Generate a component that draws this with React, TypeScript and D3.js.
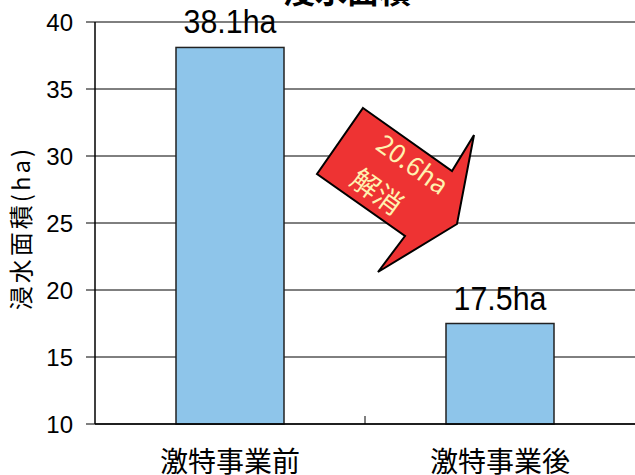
import React from "react";
import * as d3 from "d3";

const categories = ["激特事業前", "激特事業後"];
const values = [38.1, 17.5];
const valueLabels = ["38.1ha", "17.5ha"];
const yTicks = [10, 15, 20, 25, 30, 35, 40];
const title = "浸水面積";
const yTitle = "浸水面積(ha)";
const arrowLabel1 = "20.6ha";
const arrowLabel2 = "解消";

const W = 635, H = 475;
const M = { left: 95, top: 22, right: 0, bottom: 51 };

export default function App() {
  const x = d3.scaleBand<string>().domain(categories).range([M.left, W - M.right]).paddingInner(0.6).paddingOuter(0.3);
  const y = d3.scaleLinear().domain([10, 40]).range([H - M.bottom, M.top]);
  const font = "'Noto Sans CJK JP', 'Liberation Sans', sans-serif";
  const arrow: [number, number][] = [
    [363, 108], [452, 171], [474, 135], [457, 224], [378, 272], [405, 236], [317, 174],
  ];
  const band = (W - M.left) / categories.length;
  return (
    <svg width={W} height={H} style={{ position: "absolute", left: 0, top: 0 }} fontFamily={font}>
      <rect width={W} height={H} fill="#fff" />
      <text x={347} y={3} textAnchor="middle" fontSize={32} fontWeight="bold" fill="#000">{title}</text>
      {yTicks.map((t) => (
        <g key={t}>
          <line x1={86} x2={W} y1={y(t)} y2={y(t)} stroke="#000" strokeWidth={1} />
          <text x={73} y={y(t)} dy="0.36em" textAnchor="end" fontSize={24} fontFamily="'Liberation Sans', sans-serif">{t}</text>
        </g>
      ))}
      <line x1={M.left} x2={M.left} y1={M.top} y2={y(10)} stroke="#000" strokeWidth={1.5} />
      <line x1={M.left + band} x2={M.left + band} y1={y(10) - 8} y2={y(10)} stroke="#000" />
      {categories.map((c, i) => {
        const cx = x(c)! + x.bandwidth() / 2;
        return (
          <g key={c}>
            <rect x={x(c)!} width={x.bandwidth()} y={y(values[i])} height={y(10) - y(values[i])} fill="#8EC5EA" stroke="#222" strokeWidth={1.5} />
            <text transform={`translate(${cx},${y(values[i]) - 14}) scale(0.92,1)`} textAnchor="middle" fontSize={33} fontFamily="'Liberation Sans', sans-serif">{valueLabels[i]}</text>
            <text x={cx} y={472} textAnchor="middle" fontSize={28}>{c}</text>
          </g>
        );
      })}
      <line x1={M.left} x2={W} y1={y(10)} y2={y(10)} stroke="#000" strokeWidth={1.5} />
      <text transform="translate(30,228) rotate(-90)" textAnchor="middle" fontSize={24} letterSpacing={3}>{yTitle}</text>
      <polygon points={arrow.map((p) => p.join(",")).join(" ")} fill="#EE3333" stroke="#000" strokeWidth={2} strokeLinejoin="miter" />
      <text transform="translate(407,172) rotate(36)" textAnchor="middle" fontSize={26} fill="#FFF2B0">{arrowLabel1}</text>
      <text transform="translate(371,200) rotate(36)" textAnchor="middle" fontSize={28} fill="#FFF2B0">{arrowLabel2}</text>
    </svg>
  );
}
